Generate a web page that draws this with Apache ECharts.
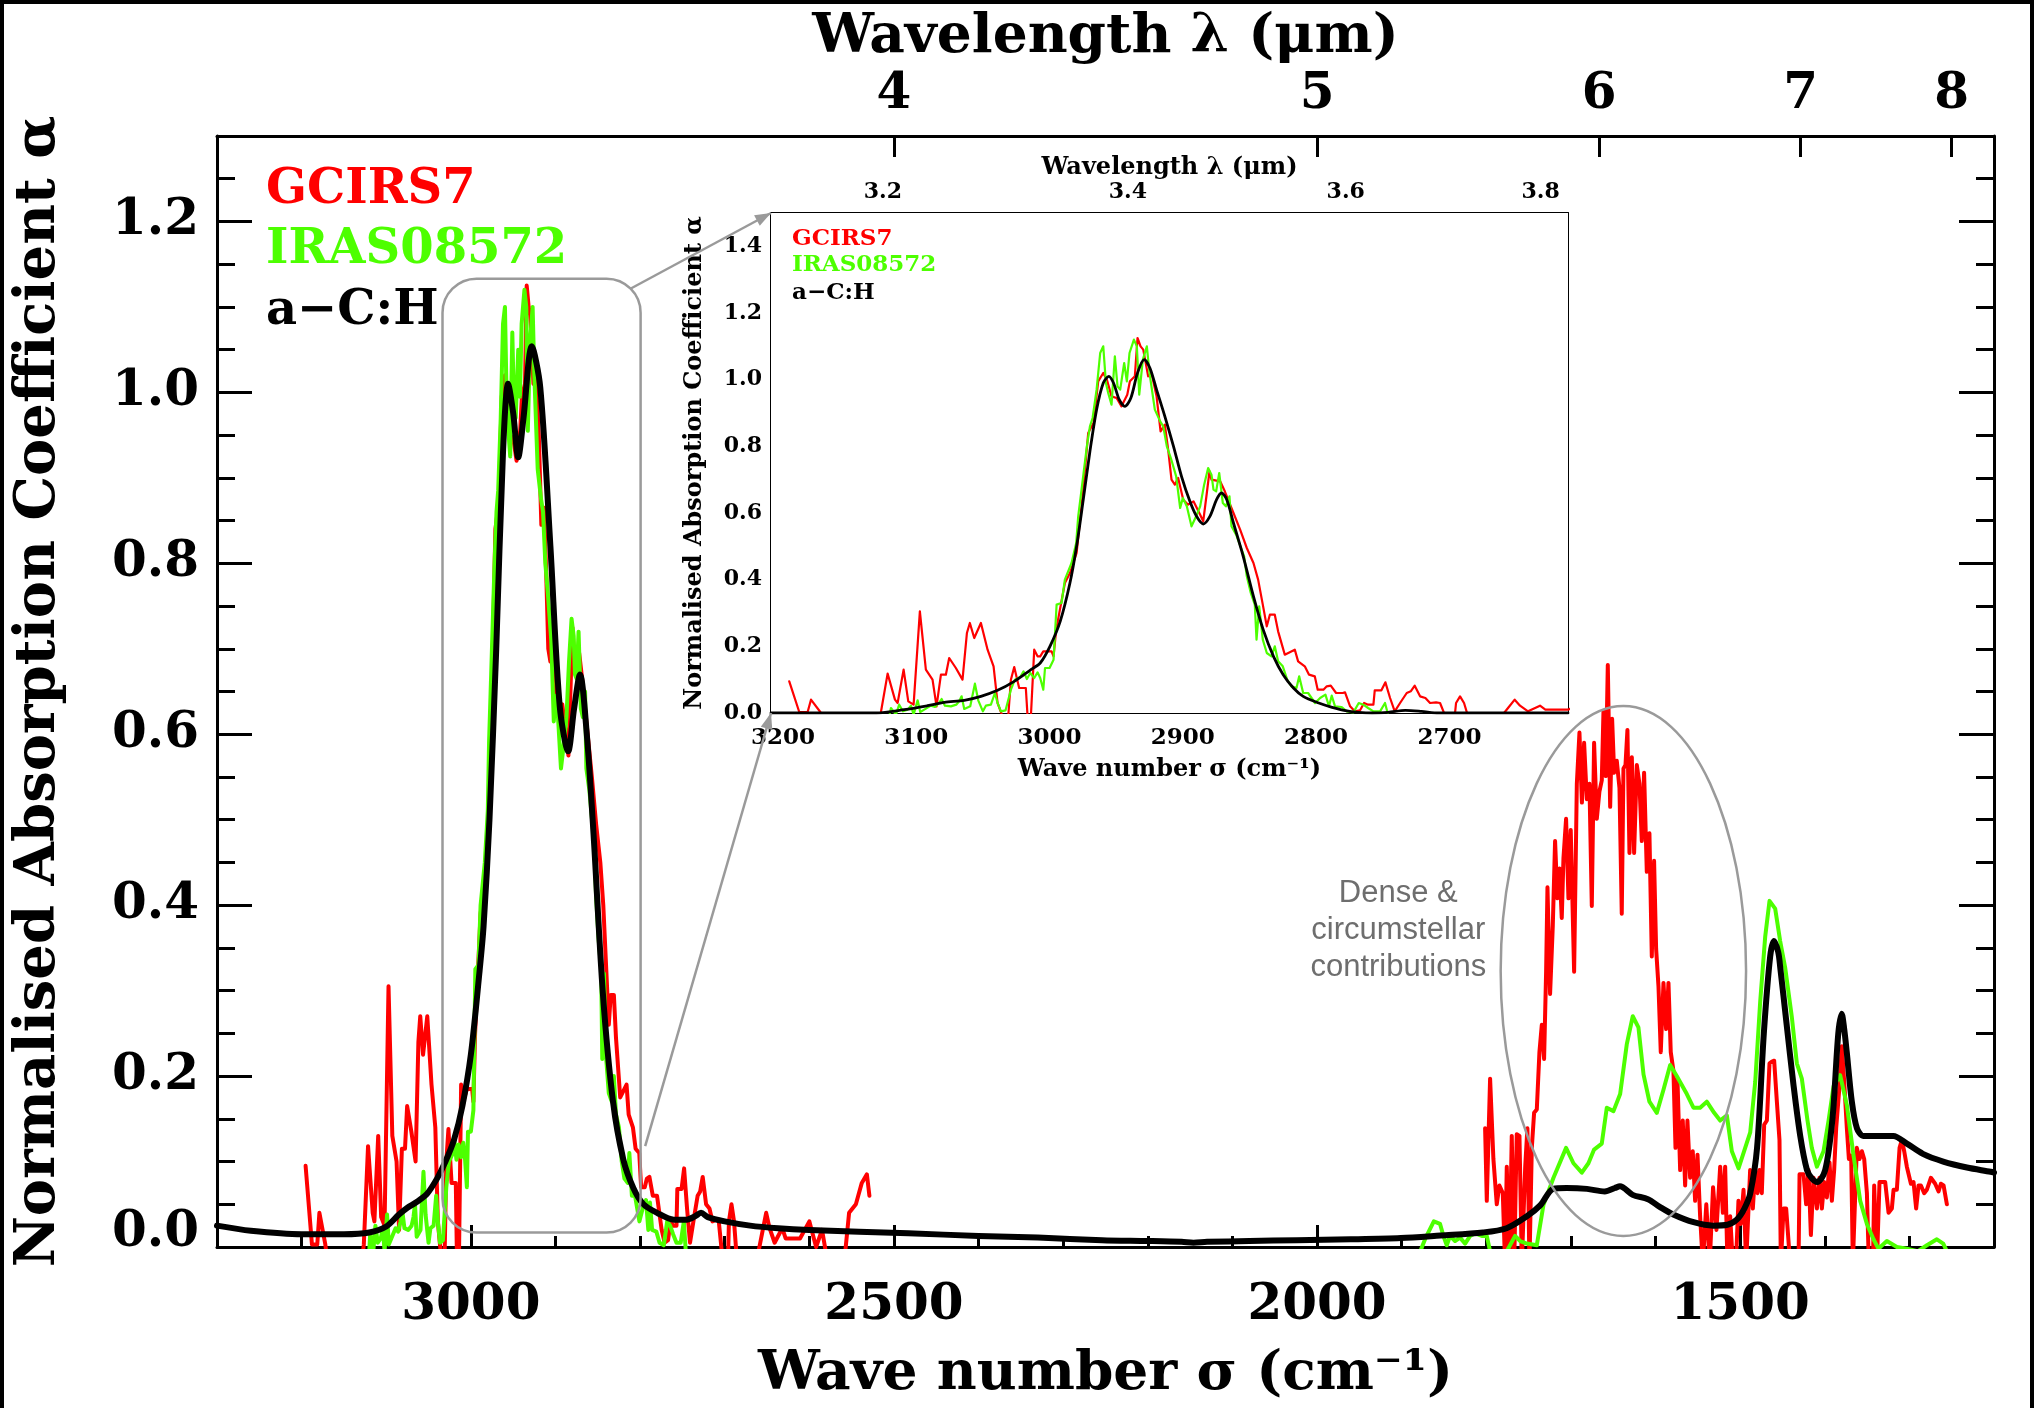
<!DOCTYPE html>
<html>
<head>
<meta charset="utf-8">
<script src="https://cdn.jsdelivr.net/npm/echarts@6/dist/echarts.min.js"></script>
<style>
  html, body { margin: 0; padding: 0; background: #fff; }
  #chart { width: 2034px; height: 1408px; }
</style>
</head>
<body>
<div id="chart"></div>
<script>
// ---------------------------------------------------------------------------
// Spectra: [wave number (cm^-1), normalised absorption coefficient]
// ---------------------------------------------------------------------------

// GCIRS7, 3.4 µm region
const gcirs7Band3 = [
  [3195.3,0.095],[3187.8,0.003],[3181.5,0.003],[3179,0.04],[3172,0.003],[3168,-0.03],[3150,-0.03],[3130,-0.03],
  [3126.5,0.003],[3121.5,0.118],[3116,0.04],[3114,0.03],[3109.5,0.13],[3106,0.035],[3102,0.025],[3097.3,0.305],
  [3092.8,0.13],[3087.8,0.1],[3084.8,0.02],[3081.5,0.115],[3077.8,0.115],[3075.3,0.165],[3070.3,0.135],[3065.3,0.1],
  [3062,0.24],[3059.8,0.27],[3056.5,0.225],[3051.5,0.27],[3046.5,0.19],[3042,0.14],[3039,0.03],[3035.3,-0.01],
  [3031,-0.01],[3029,0.1],[3026.5,0.138],[3022.8,0.075],[3017.8,0.075],[3016.5,-0.01],[3014,-0.01],[3011.5,0.19],
  [3009,0.17],[3007,0.17],[3004.7,0.185],[2998.5,0.185],[2997,0.17],[2995,0.25],[2988.5,0.39],[2984.7,0.42],
  [2979.7,0.48],[2974.7,0.67],[2971,0.84],[2967,0.87],[2963.5,0.995],[2959.7,1.02],[2957,1.0],[2953.5,0.95],
  [2949.7,0.945],[2946,0.92],[2941.7,0.955],[2939.7,0.995],[2936,1.01],[2934,1.125],[2931.7,1.10],[2929.7,1.09],
  [2926,1.01],[2923.5,1.02],[2919.7,0.95],[2916.7,0.845],[2913.5,0.865],[2911,0.79],[2908.5,0.70],[2906,0.685],
  [2903.5,0.705],[2899.7,0.64],[2896,0.625],[2892,0.635],[2887,0.595],[2884.7,0.575],[2882,0.66],[2880,0.725],
  [2878.5,0.70],[2872,0.695],[2868.5,0.665],[2862,0.60],[2857,0.55],[2852,0.495],[2847,0.45],[2843.5,0.40],
  [2840,0.325],[2837,0.26],[2834.7,0.295],[2831,0.295],[2828.5,0.245],[2823.5,0.175],[2816,0.19],[2813.5,0.155],
  [2808.5,0.14],[2805.3,0.115],[2801,0.11],[2798.8,0.07],[2794.5,0.07],[2792,0.08],[2789,0.082],[2785,0.06],
  [2780,0.06],[2778.3,0.062],[2774.5,0.02],[2771,0.005],[2767,0.008],[2764,0.03],[2761,0.025],[2757,0.025],
  [2756,0.068],[2751,0.068],[2748,0.092],[2744.5,0.045],[2741,0.005],[2737,0.03],[2732,0.06],[2729,0.065],
  [2726,0.082],[2722,0.05],[2718,0.045],[2714.5,0.03],[2710,0.032],[2707,0.03],[2703,-0.01],[2696,-0.01],
  [2695,0.03],[2692,0.05],[2689,0.03],[2686,-0.01],[2670,-0.03],[2661,-0.01],[2656,0.015],[2651,0.04],
  [2647,0.022],[2641,0.005],[2632,0.022],[2628,0.01],[2611,0.01],[2600,0.03],[2592,0.0],[2585,0.02],
  [2578,-0.02],[2560,-0.03],[2553,0.04],[2545,0.05],[2538,0.075],[2532,0.085],[2529,0.06]
];

// GCIRS7, 6 µm region
const gcirs7Band6 = [
  [1801.4,0.139],[1799.4,0.054],[1795.5,0.197],[1791.6,0.103],[1787.6,0.05],[1784.5,0.072],[1780.5,0.063],[1777.8,-0.02],
  [1775.8,0.094],[1772.6,-0.02],[1769.9,0.13],[1767,-0.02],[1764,0.132],[1760.8,0.13],[1758,-0.02],[1754,0.094],
  [1751.4,0.139],[1749,-0.02],[1746.2,0.116],[1743.5,0.157],[1740.3,0.161],[1737.2,0.228],[1734.4,0.26],[1731.7,0.22],
  [1729.3,0.322],[1727.7,0.421],[1724.6,0.296],[1721.4,0.376],[1718.7,0.475],[1716,0.408],[1713.5,0.443],[1710.8,0.385],
  [1708.8,0.455],[1705.7,0.501],[1702.9,0.408],[1700.2,0.488],[1696.2,0.322],[1693,0.542],[1689.9,0.602],[1687,0.52],
  [1684.4,0.59],[1681.2,0.524],[1678.1,0.542],[1675.3,0.399],[1672.6,0.59],[1669.4,0.501],[1666.3,0.533],[1663.5,0.546],
  [1661.5,0.627],[1658.8,0.551],[1656.4,0.681],[1653.6,0.515],[1651.3,0.618],[1648.9,0.555],[1645.8,0.569],[1642.6,0.537],
  [1639.9,0.39],[1637.9,0.56],[1635.5,0.564],[1633.2,0.605],[1630.8,0.461],[1628,0.573],[1625.3,0.461],[1622.1,0.564],
  [1619,0.542],[1616.2,0.475],[1613.5,0.555],[1610.3,0.439],[1607.2,0.484],[1604.4,0.34],[1601.7,0.452],[1599.3,0.349],
  [1596.5,0.305],[1593.8,0.228],[1590.6,0.309],[1587.5,0.255],[1584.7,0.309],[1582,0.228],[1578.8,0.206],[1576.4,0.116],
  [1574.1,0.197],[1570.9,0.09],[1567.8,0.148],[1565,0.072],[1562.3,0.148],[1559.1,0.081],[1556,0.112],[1553.2,0.054],
  [1550.4,0.108],[1547.3,0.036],[1544.1,-0.02],[1540,0.05],[1536,-0.02],[1532,0.07],[1528,0.02],[1523.6,0.094],
  [1520.4,0.04],[1517.7,0.094],[1515,-0.02],[1511.8,0.036],[1508.6,-0.02],[1505,-0.02],[1502,0.054],[1499.2,0.027],
  [1496,0.067],[1492.9,-0.02],[1488.2,0.09],[1485,0.045],[1482.2,0.09],[1479.5,0.063],[1477.1,0.09],[1474.4,0.063],
  [1471.6,0.143],[1468.4,0.148],[1465.3,0.215],[1462.5,0.217],[1459.8,0.218],[1456.6,0.17],[1453.5,0.125],[1451.9,-0.02],
  [1448.7,0.045],[1445.6,0.045],[1440.9,-0.02],[1431,-0.02],[1429.8,0.085],[1425.1,0.085],[1422,0.05],[1419.2,0.09],
  [1416.4,0.014],[1413.3,0.081],[1409.3,0.045],[1406.2,0.081],[1403.4,0.045],[1400.7,0.076],[1397.5,0.058],[1394.4,0.099],
  [1391.6,0.054],[1388.9,0.09],[1386.5,0.139],[1382.6,0.188],[1379.8,0.235],[1377,0.193],[1373.9,0.139],[1371.5,0.103],
  [1368.8,0.107],[1366.8,-0.02],[1362.1,0.116],[1358.9,0.103],[1356.1,0.112],[1353.4,0.103],[1350.2,0.063],[1347.9,-0.02],
  [1343,-0.02],[1341.6,0.072],[1338.4,-0.02],[1335.3,0.076],[1328.6,0.076],[1324.6,0.04],[1320.7,0.045],[1318.7,0.067],
  [1314.8,0.067],[1311.6,0.116],[1308.9,0.125],[1306.1,0.112],[1303,0.094],[1298.2,0.074],[1295.1,0.076],[1292,0.045],
  [1289.2,0.072],[1286.4,0.072],[1282.5,0.063],[1279.3,0.067],[1274.6,0.081],[1269.5,0.074],[1265.5,0.065],[1262.8,0.074],
  [1259.6,0.072],[1255.7,0.05]
];

// IRAS08572, 3.4 µm region
const iras08572Band3 = [
  [3120.3,-0.01],[3119,0.015],[3115.3,-0.005],[3112.8,0.025],[3110,0.005],[3106.5,0.01],[3104,0.022],[3102,-0.005],
  [3099,0.038],[3097,0.003],[3094,0.01],[3089,0.022],[3086,0.018],[3083,0.03],[3081,0.042],[3078.5,0.022],
  [3074,0.02],[3070,0.025],[3067.8,0.035],[3066,0.05],[3064,0.012],[3059.5,0.02],[3056,0.088],[3053.5,0.038],
  [3050,0.005],[3047.8,0.022],[3044,0.025],[3041,0.06],[3039,0.03],[3036.5,0.005],[3033,0.008],[3029,0.07],
  [3026,0.1],[3022,0.108],[3019.5,0.125],[3017,0.102],[3014.5,0.12],[3011.5,0.105],[3009,0.122],[3007,0.105],
  [3004.7,0.07],[3003.4,0.135],[3000,0.135],[2997,0.16],[2994.7,0.325],[2991,0.33],[2988.5,0.4],[2983.5,0.45],
  [2980,0.51],[2978.5,0.59],[2976,0.67],[2972,0.80],[2969.7,0.86],[2967.7,0.885],[2964.7,0.97],[2962,1.08],
  [2959.7,1.10],[2957.7,0.99],[2956,0.96],[2953.5,0.925],[2951,1.07],[2949,0.98],[2947,0.97],[2944,1.05],
  [2942,0.995],[2940,1.08],[2936.7,1.12],[2934.5,1.10],[2932.7,0.955],[2930,1.06],[2927,1.10],[2925,1.02],
  [2921,0.91],[2917,0.875],[2914.7,0.86],[2912,0.80],[2909,0.765],[2905,0.71],[2902,0.615],[2900,0.645],
  [2897,0.62],[2893.5,0.56],[2890,0.59],[2887,0.62],[2884,0.685],[2881,0.735],[2878.5,0.715],[2877,0.67],
  [2875,0.665],[2872.7,0.72],[2870,0.63],[2867.7,0.62],[2865,0.65],[2863.5,0.56],[2860,0.535],[2854,0.47],
  [2852,0.41],[2849,0.36],[2846,0.325],[2844.7,0.22],[2842.7,0.32],[2840,0.22],[2837,0.18],[2833.5,0.17],
  [2831,0.2],[2828.5,0.155],[2825,0.14],[2821.7,0.10],[2818.5,0.08],[2814.7,0.075],[2812.7,0.11],[2809.7,0.06],
  [2806,0.06],[2804.5,0.06],[2800.8,0.03],[2797,0.045],[2793,0.055],[2790.3,0.02],[2788.3,0.052],[2785.8,0.02],
  [2780.8,0.018],[2777,0.005],[2772,0.002],[2768,0.03],[2764.5,0.025],[2761,0.015],[2757,0.005],[2752,0.005],
  [2748.3,0.03],[2746,-0.005],[2740,-0.02]
];

// IRAS08572, 6 µm region
const iras08572Band6 = [
  [1880,-0.01],[1872,0.01],[1862,0.03],[1854.6,0.027],[1850.7,0.013],[1846.7,0.002],[1842.8,0.013],[1836.9,0.007],
  [1831,0.011],[1825,0.004],[1819.1,0.013],[1813.2,0.016],[1805.3,0.013],[1799.4,0.013],[1795.5,-0.005],[1775.8,-0.005],
  [1766,0.013],[1760,0.007],[1752.2,0.004],[1740.3,0.002],[1732.5,0.049],[1720.6,0.081],[1705.7,0.116],[1697,0.098],
  [1687.1,0.087],[1679.3,0.098],[1672.6,0.114],[1663.5,0.121],[1657.6,0.163],[1649.7,0.159],[1641.8,0.179],[1634,0.237],
  [1626.9,0.27],[1620.2,0.257],[1614.2,0.202],[1607.2,0.17],[1598.5,0.157],[1590.6,0.184],[1582.7,0.213],[1574.9,0.2],
  [1563,0.179],[1555.2,0.163],[1547.3,0.163],[1539.4,0.17],[1530.7,0.157],[1523.6,0.148],[1515.7,0.154],[1509.8,0.112],
  [1501.9,0.092],[1488.1,0.134],[1482.2,0.193],[1476.3,0.287],[1470.4,0.363],[1465.3,0.405],[1458.6,0.396],[1452.7,0.358],
  [1446.8,0.327],[1438.9,0.269],[1433,0.215],[1427.1,0.197],[1420.4,0.148],[1415.3,0.116],[1409.3,0.094],[1401.5,0.112],
  [1395.5,0.148],[1389.6,0.188],[1381.8,0.201],[1373.9,0.166],[1366,0.107],[1358.1,0.054],[1350.2,0.027],[1342.4,0.009],
  [1336.5,-0.002],[1326.6,0.007],[1314.8,0.0],[1303,-0.002],[1290,-0.005],[1279.3,0.002],[1267.5,0.009],[1260,0.004],
  [1255.7,-0.005]
];

// a-C:H laboratory analogue, full range
const acHFull = [
  [3300,0.025],[3260,0.019],[3200,0.015],[3150,0.015],[3120,0.017],[3100,0.024],[3085,0.038],[3075,0.046],
  [3065,0.052],[3052,0.062],[3040,0.08],[3030,0.1],[3020,0.125],[3010,0.165],[3000,0.225],[2990,0.32],
  [2985,0.375],[2978,0.5],[2970,0.70],[2962,0.93],[2956,1.01],[2950,0.976],[2944,0.924],[2938,0.968],
  [2928,1.054],[2918,1.006],[2906,0.82],[2895,0.633],[2885,0.58],[2878,0.63],[2871,0.67],[2863,0.6],
  [2855,0.483],[2844,0.297],[2832,0.17],[2820,0.103],[2808,0.069],[2796,0.05],[2780,0.04],[2760,0.032],
  [2745,0.032],[2735,0.036],[2728,0.04],[2720,0.035],[2700,0.03],[2670,0.025],[2637,0.022],[2600,0.02],
  [2483,0.016],[2400,0.013],[2330,0.011],[2254,0.008],[2200,0.007],[2160,0.006],[2146,0.005],[2130,0.006],
  [2080,0.007],[2024,0.008],[1960,0.009],[1901,0.0105],[1854,0.0135],[1804,0.017],[1776,0.022],[1752,0.036],
  [1736,0.049],[1721,0.068],[1705,0.069],[1681,0.068],[1660,0.065],[1648,0.069],[1642,0.071],[1627,0.061],
  [1609,0.056],[1595,0.047],[1579,0.038],[1555,0.029],[1532,0.025],[1515,0.026],[1504,0.032],[1495,0.045],
  [1488,0.063],[1480,0.116],[1472,0.25],[1464.5,0.34],[1460,0.358],[1455,0.345],[1452.6,0.327],[1445,0.26],
  [1437,0.19],[1429,0.13],[1421,0.09],[1415,0.08],[1409,0.076],[1404,0.08],[1399.5,0.09],[1395,0.115],
  [1390,0.16],[1384,0.25],[1380,0.273],[1377,0.255],[1374,0.228],[1368,0.17],[1362,0.139],[1354.5,0.13],
  [1334.5,0.13],[1319,0.13],[1303,0.121],[1284,0.109],[1260,0.1],[1232,0.093],[1204,0.088],[1200,0.087]
];

// a-C:H, 3.4 µm band as shown in the zoomed panel
const acHBand3 = [
  [3209,0.0],[3130,0.0],[3109,0.01],[3091.5,0.022],[3079,0.032],[3064,0.038],[3051.5,0.05],[3039,0.068],
  [3026.5,0.095],[3014,0.13],[3007,0.15],[2999.7,0.2],[2992,0.275],[2984.7,0.39],[2979.7,0.5],[2974.7,0.64],
  [2969.7,0.785],[2964.7,0.91],[2959.7,0.99],[2955.5,1.01],[2952,0.99],[2947.7,0.94],[2943.5,0.92],[2939,0.945],
  [2934,1.02],[2929,1.06],[2924.7,1.035],[2919.7,0.97],[2913.5,0.89],[2907,0.80],[2901,0.71],[2894.7,0.635],
  [2889.7,0.59],[2884.7,0.567],[2879.7,0.59],[2874.7,0.64],[2871,0.66],[2867,0.64],[2862,0.57],[2854.7,0.47],
  [2847,0.35],[2839.7,0.25],[2832,0.17],[2824.7,0.115],[2817,0.075],[2809.7,0.05],[2798,0.03],[2788,0.017],
  [2778,0.007],[2768,0.002],[2758,0.0],[2746,0.002],[2733,0.008],[2721,0.005],[2708,0.0],[2611,0.0]
];

// ---------------------------------------------------------------------------
// Axes: tick positions and ranges
// ---------------------------------------------------------------------------
const mainWnRange = [1200, 3300];
const mainAlphaRange = [0, 1.3];
const mainWnMajor = [1500, 2000, 2500, 3000];
const mainWlTicks = [4, 5, 6, 7, 8];             // µm

const insetWnRange = [2611, 3209];
const insetAlphaRange = [0, 1.5];
const insetWnMajor = [2700, 2800, 2900, 3000, 3100, 3200];
const insetWlTicks = [3.2, 3.4, 3.6, 3.8];       // µm

const seriesNames = ['GCIRS7', 'IRAS08572', 'a\u2212C:H'];
const seriesColors = ['#ff0000', '#4dff00', '#000000'];
const annotationText = 'Dense &\ncircumstellar\ncontributions';

// ---------------------------------------------------------------------------
const toWn = um => 1e4 / um;
const plain = v => String(Math.round(v));
const insetWnMinor = [];
for (let w = 2620; w <= 3200; w += 20) insetWnMinor.push(w);

const SERIF = 'DejaVu Serif';
const txt = (size, extra) => Object.assign({ fontFamily: SERIF, fontWeight: 'bold', fontSize: size, color: '#000' }, extra || {});

const chart = echarts.init(document.getElementById('chart'), null, { renderer: 'canvas' });

const MAIN_LW = 3, INSET_LW = 2;
function xAxisCfg(o) {
  return Object.assign({
    type: 'value', inverse: true, splitLine: { show: false },
    axisLine: { show: false }, axisLabel: { show: false }, axisTick: { show: false }
  }, o);
}
function yAxisCfg(o) {
  return Object.assign({
    type: 'value', splitLine: { show: false },
    axisLine: { show: false }, axisLabel: { show: false }, axisTick: { show: false }
  }, o);
}

const xAxes = [
  // 0: main, bottom, major ticks and labels
  xAxisCfg({
    gridIndex: 0, position: 'bottom', min: mainWnRange[0], max: mainWnRange[1],
    axisLine: { show: true, onZero: false, lineStyle: { color: '#000', width: MAIN_LW } },
    axisTick: { show: true, inside: true, length: 22, customValues: mainWnMajor, lineStyle: { color: '#000', width: MAIN_LW } },
    axisLabel: Object.assign({ show: true, margin: 34, customValues: mainWnMajor, formatter: plain }, txt(50)),
    name: 'Wave number \u03c3 (cm\u207b\u00b9)', nameLocation: 'middle', nameGap: 100,
    nameTextStyle: txt(55)
  }),
  // 1: main, bottom, minor ticks every 100 cm^-1
  xAxisCfg({
    gridIndex: 0, position: 'bottom', min: mainWnRange[0], max: mainWnRange[1], interval: 100,
    axisTick: { show: true, inside: true, length: 11, lineStyle: { color: '#000', width: MAIN_LW } }
  }),
  // 2: main, top, wavelength
  xAxisCfg({
    gridIndex: 0, position: 'top', min: mainWnRange[0], max: mainWnRange[1],
    axisLine: { show: true, onZero: false, lineStyle: { color: '#000', width: MAIN_LW } },
    axisTick: { show: true, inside: true, length: 21, customValues: mainWlTicks.map(toWn), lineStyle: { color: '#000', width: MAIN_LW } },
    axisLabel: Object.assign({ show: true, margin: 16, customValues: mainWlTicks.map(toWn),
      formatter: v => String(Math.round(1e4 / v)) }, txt(50)),
    name: 'Wavelength \u03bb (\u03bcm)', nameLocation: 'middle', nameGap: 66,
    nameTextStyle: txt(55)
  }),
  // 3: inset, bottom, major
  xAxisCfg({
    gridIndex: 1, position: 'bottom', min: insetWnRange[0], max: insetWnRange[1],
    axisLine: { show: true, onZero: false, lineStyle: { color: '#000', width: INSET_LW } },
    axisTick: { show: true, inside: true, length: 10, customValues: insetWnMajor, lineStyle: { color: '#000', width: INSET_LW } },
    axisLabel: Object.assign({ show: true, margin: 14, customValues: insetWnMajor, formatter: plain }, txt(23)),
    name: 'Wave number \u03c3 (cm\u207b\u00b9)', nameLocation: 'middle', nameGap: 45,
    nameTextStyle: txt(24)
  }),
  // 4: inset, bottom, minor every 20 cm^-1
  xAxisCfg({
    gridIndex: 1, position: 'bottom', min: insetWnRange[0], max: insetWnRange[1],
    axisTick: { show: true, inside: true, length: 5, customValues: insetWnMinor, lineStyle: { color: '#000', width: INSET_LW } }
  }),
  // 5: inset, top, wavelength
  xAxisCfg({
    gridIndex: 1, position: 'top', min: insetWnRange[0], max: insetWnRange[1],
    axisLine: { show: true, onZero: false, lineStyle: { color: '#000', width: INSET_LW } },
    axisTick: { show: true, inside: true, length: 10, customValues: insetWlTicks.map(toWn), lineStyle: { color: '#000', width: INSET_LW } },
    axisLabel: Object.assign({ show: true, margin: 10, customValues: insetWlTicks.map(toWn),
      formatter: v => (1e4 / v).toFixed(1) }, txt(22)),
    name: 'Wavelength \u03bb (\u03bcm)', nameLocation: 'middle', nameGap: 32,
    nameTextStyle: txt(24)
  })
];

const mainYLabel = Object.assign({
  show: true, margin: 18, showMaxLabel: false,
  formatter: v => (Math.abs(v) < 1e-9 ? '{lift|0.0}' : v.toFixed(1)),
  rich: { lift: Object.assign({ padding: [0, 0, 28, 0] }, txt(50)) }
}, txt(50));

const yAxes = [
  // 0: main left major
  yAxisCfg({
    gridIndex: 0, position: 'left', min: mainAlphaRange[0], max: mainAlphaRange[1], interval: 0.2,
    axisLine: { show: true, onZero: false, lineStyle: { color: '#000', width: MAIN_LW } },
    axisTick: { show: true, inside: true, length: 35, lineStyle: { color: '#000', width: MAIN_LW } },
    axisLabel: mainYLabel,
    name: 'Normalised Absorption Coefficient \u03b1', nameLocation: 'middle', nameGap: 150,
    nameTextStyle: txt(56)
  }),
  // 1: main left minor
  yAxisCfg({
    gridIndex: 0, position: 'left', min: mainAlphaRange[0], max: mainAlphaRange[1], interval: 0.05,
    axisTick: { show: true, inside: true, length: 18, lineStyle: { color: '#000', width: MAIN_LW } }
  }),
  // 2: main right major
  yAxisCfg({
    gridIndex: 0, position: 'right', min: mainAlphaRange[0], max: mainAlphaRange[1], interval: 0.2,
    axisLine: { show: true, onZero: false, lineStyle: { color: '#000', width: MAIN_LW } },
    axisTick: { show: true, inside: true, length: 35, lineStyle: { color: '#000', width: MAIN_LW } }
  }),
  // 3: main right minor
  yAxisCfg({
    gridIndex: 0, position: 'right', min: mainAlphaRange[0], max: mainAlphaRange[1], interval: 0.05,
    axisTick: { show: true, inside: true, length: 18, lineStyle: { color: '#000', width: MAIN_LW } }
  }),
  // 4: inset left major
  yAxisCfg({
    gridIndex: 1, position: 'left', min: insetAlphaRange[0], max: insetAlphaRange[1], interval: 0.2,
    axisLine: { show: true, onZero: false, lineStyle: { color: '#000', width: INSET_LW } },
    axisTick: { show: true, inside: true, length: 15, lineStyle: { color: '#000', width: INSET_LW } },
    axisLabel: Object.assign({ show: true, margin: 9, showMaxLabel: false, formatter: v => v.toFixed(1) }, txt(22)),
    name: 'Normalised Absorption Coefficient \u03b1', nameLocation: 'middle', nameGap: 64,
    nameTextStyle: txt(24)
  }),
  // 5: inset left minor
  yAxisCfg({
    gridIndex: 1, position: 'left', min: insetAlphaRange[0], max: insetAlphaRange[1], interval: 0.05,
    axisTick: { show: true, inside: true, length: 7, lineStyle: { color: '#000', width: INSET_LW } }
  }),
  // 6: inset right major
  yAxisCfg({
    gridIndex: 1, position: 'right', min: insetAlphaRange[0], max: insetAlphaRange[1], interval: 0.2,
    axisLine: { show: true, onZero: false, lineStyle: { color: '#000', width: INSET_LW } },
    axisTick: { show: true, inside: true, length: 16, lineStyle: { color: '#000', width: INSET_LW } }
  }),
  // 7: inset right minor
  yAxisCfg({
    gridIndex: 1, position: 'right', min: insetAlphaRange[0], max: insetAlphaRange[1], interval: 0.05,
    axisTick: { show: true, inside: true, length: 8, lineStyle: { color: '#000', width: INSET_LW } }
  })
];

function lineSeries(name, data, color, width, xi, yi, smooth) {
  return {
    type: 'line', name, data, xAxisIndex: xi, yAxisIndex: yi,
    showSymbol: false, symbol: 'none', clip: true, smooth: smooth || false,
    lineStyle: { color, width, join: 'round', cap: 'round' },
    emphasis: { disabled: true }, animation: false, z: 3
  };
}

chart.setOption({
  animation: false,
  backgroundColor: '#ffffff',
  grid: [
    { left: 217, top: 136, width: 1777, height: 1111, containLabel: false, outerBoundsMode: 'none', show: false },
    { left: 771, top: 213, width: 797, height: 500, containLabel: false, outerBoundsMode: 'none',
      show: true, backgroundColor: '#ffffff', borderWidth: 0, z: 1 }
  ],
  xAxis: xAxes,
  yAxis: yAxes,
  series: [
    lineSeries(seriesNames[0], gcirs7Band3, seriesColors[0], 4, 0, 0),
    lineSeries(seriesNames[0], gcirs7Band6, seriesColors[0], 4, 0, 0),
    lineSeries(seriesNames[1], iras08572Band3, seriesColors[1], 4, 0, 0),
    lineSeries(seriesNames[1], iras08572Band6, seriesColors[1], 4, 0, 0),
    lineSeries(seriesNames[2], acHFull, seriesColors[2], 6, 0, 0, 0.3),
    lineSeries(seriesNames[0], gcirs7Band3, seriesColors[0], 2.2, 3, 4),
    lineSeries(seriesNames[1], iras08572Band3, seriesColors[1], 2.2, 3, 4),
    lineSeries(seriesNames[2], acHBand3, seriesColors[2], 2.8, 3, 4, 0.3)
  ]
});

// ---------------------------------------------------------------------------
// Annotations: zoom box, connector arrows, ellipse and legends
// ---------------------------------------------------------------------------
const mainPx = p => chart.convertToPixel({ xAxisIndex: 0, yAxisIndex: 0 }, p);
const insetPx = p => chart.convertToPixel({ xAxisIndex: 3, yAxisIndex: 4 }, p);

const GRAY = '#9a9a9a';
const zoomBox = { wn: [3033.5, 2799.4], alpha: [0.017, 1.133] };
const ellipseSpec = { wn: 1638, alpha: 0.323, dWn: 145, dAlpha: 0.31 };
const textAnchor = [1904, 0.37];

const b1 = mainPx([zoomBox.wn[0], zoomBox.alpha[1]]);
const b2 = mainPx([zoomBox.wn[1], zoomBox.alpha[0]]);

const upFrom = mainPx([2812, 1.121]);
const upTo = insetPx([insetWnRange[1], insetAlphaRange[1]]);
const lowFrom = mainPx([2794, 0.118]);
const lowTo = insetPx([insetWnRange[1], insetAlphaRange[0]]);

function arrowHead(from, to, len, half) {
  const dx = to[0] - from[0], dy = to[1] - from[1];
  const L = Math.hypot(dx, dy), ux = dx / L, uy = dy / L;
  const bx = to[0] - ux * len, by = to[1] - uy * len;
  return [[to[0], to[1]], [bx - uy * half, by + ux * half], [bx + uy * half, by - ux * half]];
}

const ec = mainPx([ellipseSpec.wn, ellipseSpec.alpha]);
const ex = mainPx([ellipseSpec.wn - ellipseSpec.dWn, ellipseSpec.alpha + ellipseSpec.dAlpha]);
const ta = mainPx(textAnchor);

const graphics = [
  { type: 'rect', silent: true, z: 50,
    shape: { x: Math.min(b1[0], b2[0]), y: Math.min(b1[1], b2[1]), width: Math.abs(b2[0] - b1[0]), height: Math.abs(b2[1] - b1[1]), r: 34 },
    style: { fill: 'none', stroke: GRAY, lineWidth: 2.5 } },
  { type: 'line', silent: true, z: 50,
    shape: { x1: upFrom[0], y1: upFrom[1], x2: upTo[0], y2: upTo[1] }, style: { stroke: GRAY, lineWidth: 2.5 } },
  { type: 'polygon', silent: true, z: 50, shape: { points: arrowHead(upFrom, upTo, 16, 6) }, style: { fill: GRAY } },
  { type: 'line', silent: true, z: 50,
    shape: { x1: lowFrom[0], y1: lowFrom[1], x2: lowTo[0], y2: lowTo[1] }, style: { stroke: GRAY, lineWidth: 2.5 } },
  { type: 'polygon', silent: true, z: 50, shape: { points: arrowHead(lowFrom, lowTo, 16, 6) }, style: { fill: GRAY } },
  { type: 'ellipse', silent: true, z: 50,
    shape: { cx: ec[0], cy: ec[1], rx: Math.abs(ec[0] - ex[0]), ry: Math.abs(ec[1] - ex[1]) },
    style: { fill: 'none', stroke: GRAY, lineWidth: 2.5 } },
  { type: 'text', silent: true, z: 50, x: ta[0], y: ta[1],
    style: { text: annotationText, fill: '#6e6e6e', font: '31px "Liberation Sans", Arial, sans-serif',
             textAlign: 'center', textVerticalAlign: 'middle', lineHeight: 37 } }
];

// legends (main panel and zoomed panel)
const mainLegendY = [191, 251, 312];
const insetLegendY = [239, 265, 293];
seriesNames.forEach((name, i) => {
  graphics.push({ type: 'text', silent: true, z: 60, x: 266, y: mainLegendY[i],
    style: { text: name, fill: seriesColors[i],
             font: 'bold 48px "DejaVu Serif"', textVerticalAlign: 'middle', textAlign: 'left' } });
  graphics.push({ type: 'text', silent: true, z: 60, x: 792, y: insetLegendY[i],
    style: { text: name, fill: seriesColors[i],
             font: 'bold 23px "DejaVu Serif"', textVerticalAlign: 'middle', textAlign: 'left' } });
});

// black frame around the figure
graphics.push({ type: 'rect', silent: true, z: 100,
  shape: { x: 0, y: 0, width: 2034, height: 1420 }, style: { fill: 'none', stroke: '#000', lineWidth: 8 } });

chart.setOption({ graphic: graphics });
</script>
</body>
</html>
